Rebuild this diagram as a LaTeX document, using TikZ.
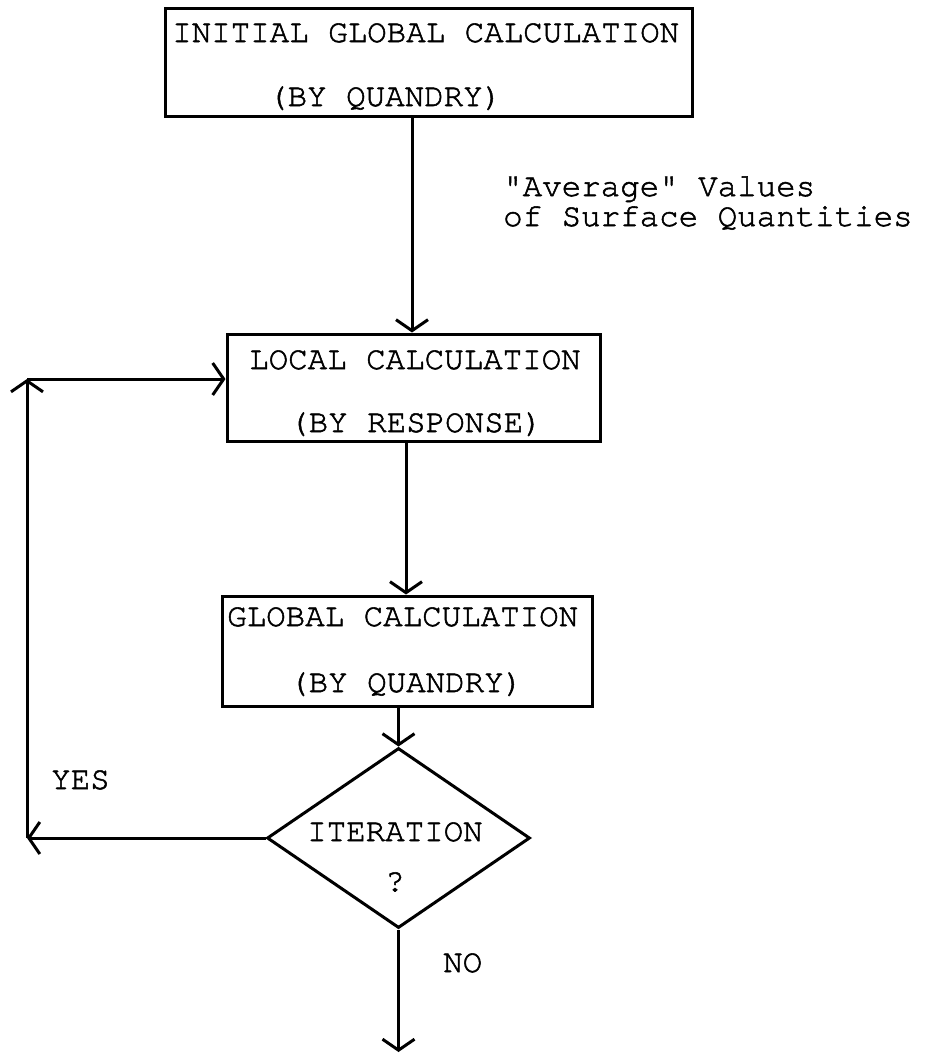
\documentclass[tikz,border=0pt]{standalone}
\usepackage{fontspec}
\newfontfamily\tw[FakeBold=1.6]{texgyrecursor-regular.otf}
\usetikzlibrary{arrows.meta,shapes.geometric}
\begin{document}
\begin{tikzpicture}[x=1pt,y=-1pt,
  every node/.style={font=\tw\fontsize{32.5}{39}\selectfont},
  lbl/.style={anchor=base west, inner sep=0pt},
  box/.style={draw, line width=3pt, inner sep=0pt, rectangle},
  arr/.style={line width=3pt, -{Straight Barb[length=11pt,width=32pt]}}
]
\useasboundingbox (0,0) rectangle (925,1058);

% boxes
\node[box, minimum width=527pt, minimum height=108pt] (b1) at (428.5,62) {};
\node[box, minimum width=373pt, minimum height=107pt] (b2) at (413.5,387.5) {};
\node[box, minimum width=370pt, minimum height=110pt] (b3) at (407,651) {};
\node[diamond, draw, line width=3pt, inner sep=0pt, minimum width=263pt, minimum height=180pt] (d) at (398.5,838) {};

% texts
\node[lbl] (t1a) at (172,42) {INITIAL GLOBAL CALCULATION};
\node[lbl] (t1b) at (268,106) {(BY QUANDRY)};
\node[lbl] (t2a) at (249,369) {LOCAL CALCULATION};
\node[lbl] (t2b) at (289,432) {(BY RESPONSE)};
\node[lbl] (t3a) at (227,626) {GLOBAL CALCULATION};
\node[lbl] (t3b) at (289,692) {(BY QUANDRY)};
\node[lbl] (ta1) at (503,196) {"Average" Values};
\node[lbl] (ta2) at (503,226) {of Surface Quantities};
\node[lbl] (ti) at (307,841) {ITERATION};
\node[anchor=base, inner sep=0pt] (tq) at (395,891) {?};
\node[lbl] (yes) at (51,789) {YES};
\node[lbl] (no) at (443,972) {NO};

% connectors
\coordinate (x1) at (412,0);
\coordinate (x2) at (406,0);
\coordinate (lb) at (27,0);
\coordinate (lt) at (27,379);
\coordinate (bend) at (0,1052);
\draw[arr] (b1.south -| x1) -- (b2.north -| x1);
\draw[arr] (b2.south -| x2) -- (b3.north -| x2);
\draw[arr] (b3.south -| d.north) -- (d.north);
\draw[arr] (d.west) -- (d.west -| lb);
\draw[arr] (d.west -| lb) -- (lt);
\draw[arr] (lt) -- (lt -| b2.west);
\draw[arr] (d.south) -- (d.south |- bend);
\end{tikzpicture}
\end{document}
